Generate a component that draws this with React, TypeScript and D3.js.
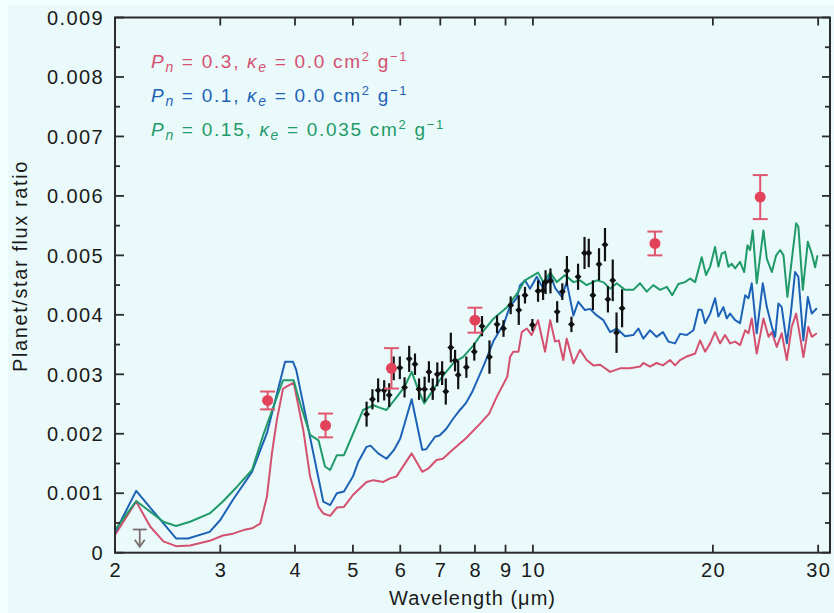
import React from 'react';
import * as d3 from 'd3';

// Planet/star flux ratio (in units of 1e-3) versus wavelength (µm)
const redModel: [number, number][] = [
  [2.0, 0.3], [2.17, 0.86], [2.29, 0.44], [2.41, 0.19], [2.53, 0.11], [2.67, 0.12], [2.88, 0.2],
  [3.03, 0.29], [3.15, 0.32], [3.28, 0.38], [3.39, 0.41], [3.5, 0.49], [3.59, 0.94], [3.66, 1.67],
  [3.73, 2.23], [3.82, 2.76], [3.98, 2.86], [4.13, 2.06], [4.24, 1.28], [4.38, 0.77], [4.46, 0.66],
  [4.58, 0.62], [4.7, 0.76], [4.83, 0.77], [5.0, 0.97], [5.27, 1.19], [5.41, 1.22], [5.62, 1.19],
  [5.77, 1.25], [5.91, 1.28], [6.27, 1.67], [6.53, 1.36], [6.69, 1.42], [6.9, 1.56], [7.07, 1.58],
  [7.34, 1.73], [7.72, 1.92], [8.16, 2.17], [8.45, 2.34], [8.7, 2.62], [9.06, 2.96], [9.16, 3.29],
  [9.27, 3.38], [9.46, 3.38], [9.58, 3.71], [9.77, 3.77], [9.95, 3.66], [10.2, 3.91], [10.48, 3.38],
  [10.69, 3.91], [10.89, 3.55], [11.05, 3.57], [11.24, 3.24], [11.39, 3.6], [11.69, 3.18],
  [11.99, 3.41], [12.3, 3.24], [12.62, 3.15], [12.96, 3.16], [13.46, 3.04], [13.99, 3.1],
  [14.54, 3.1], [15.11, 3.13], [15.3, 3.19], [15.7, 3.13], [16.1, 3.19], [16.5, 3.15],
  [16.96, 3.24], [17.29, 3.15], [17.63, 3.24], [18.09, 3.3], [18.68, 3.35], [19.04, 3.57],
  [19.41, 3.38], [19.79, 3.52], [20.17, 3.71], [20.56, 3.52], [20.96, 3.66], [21.37, 3.52],
  [21.79, 3.55], [22.21, 3.49], [22.65, 3.74], [22.94, 3.69], [23.23, 3.94], [23.68, 3.35],
  [24.3, 3.94], [24.78, 3.63], [25.1, 3.71], [25.58, 3.46], [26.07, 3.69], [26.59, 3.24],
  [27.1, 3.8], [27.56, 4.02], [27.99, 3.63], [28.34, 3.29], [28.89, 3.8], [29.27, 3.63], [29.85, 3.69],
];

const blueModel: [number, number][] = [
  [2.0, 0.34], [2.17, 1.04], [2.53, 0.24], [2.65, 0.24], [2.88, 0.35], [3.0, 0.55], [3.15, 0.89],
  [3.39, 1.36], [3.59, 2.01], [3.85, 3.21], [3.97, 3.21], [4.02, 3.07], [4.46, 0.86], [4.58, 0.8],
  [4.7, 1.0], [4.83, 1.03], [5.0, 1.28], [5.1, 1.52], [5.27, 1.78], [5.35, 1.8], [5.51, 1.67],
  [5.69, 1.58], [5.85, 1.72], [6.0, 1.92], [6.27, 2.58], [6.53, 1.73], [6.63, 1.74], [6.86, 1.95],
  [6.98, 1.97], [7.16, 2.08], [7.34, 2.24], [7.55, 2.4], [7.72, 2.51], [7.93, 2.72], [8.3, 3.18],
  [8.6, 3.57], [8.95, 3.86], [9.16, 4.15], [9.4, 4.28], [9.52, 4.5], [9.7, 4.58], [9.89, 4.44],
  [10.15, 4.64], [10.41, 4.44], [10.69, 4.67], [10.9, 4.45], [11.18, 4.3], [11.39, 4.55],
  [11.69, 3.99], [11.91, 4.22], [12.22, 4.08], [12.46, 4.1], [12.79, 3.99], [13.12, 3.91],
  [13.46, 3.71], [13.81, 3.77], [14.26, 3.64], [14.72, 3.66], [15.01, 3.77], [15.3, 3.6],
  [15.7, 3.74], [16.1, 3.63], [16.5, 3.71], [16.85, 3.55], [17.29, 3.52], [17.63, 3.68],
  [18.09, 3.66], [18.56, 3.74], [18.92, 4.09], [19.16, 4.08], [19.41, 3.86], [19.79, 4.02],
  [20.17, 4.28], [20.43, 3.97], [20.82, 4.13], [21.1, 3.94], [21.37, 4.02], [21.79, 3.91],
  [22.21, 3.86], [22.65, 4.33], [22.94, 4.28], [23.23, 4.53], [23.68, 3.69], [24.24, 4.53],
  [24.62, 4.13], [25.1, 3.8], [25.42, 3.63], [25.74, 4.19], [26.07, 4.13], [26.59, 3.52],
  [27.0, 4.02], [27.45, 4.72], [27.8, 4.64], [28.34, 3.57], [28.83, 4.3], [29.27, 4.02], [29.85, 4.11],
];

const greenModel: [number, number][] = [
  [2.0, 0.38], [2.17, 0.87], [2.29, 0.69], [2.41, 0.52], [2.53, 0.45], [2.67, 0.52], [2.88, 0.66],
  [3.03, 0.86], [3.2, 1.11], [3.39, 1.39], [3.54, 1.98], [3.68, 2.45], [3.82, 2.9], [3.98, 2.9],
  [4.08, 2.51], [4.24, 1.98], [4.38, 1.89], [4.49, 1.45], [4.58, 1.39], [4.7, 1.64], [4.83, 1.64],
  [4.94, 1.87], [5.2, 2.4], [5.41, 2.48], [5.54, 2.44], [5.69, 2.4], [5.87, 2.57], [6.1, 2.79],
  [6.27, 3.04], [6.42, 2.76], [6.58, 2.51], [6.75, 2.68], [6.98, 2.9], [7.16, 3.04], [7.39, 3.21],
  [7.64, 3.29], [7.96, 3.49], [8.28, 3.74], [8.6, 3.94], [9.06, 4.13], [9.41, 4.36], [9.7, 4.58],
  [10.2, 4.71], [10.41, 4.55], [10.69, 4.71], [10.96, 4.55], [11.32, 4.67], [11.69, 4.55],
  [11.99, 4.58], [12.3, 4.5], [12.79, 4.58], [13.12, 4.55], [13.46, 4.44], [13.81, 4.53],
  [14.26, 4.42], [14.72, 4.42], [15.11, 4.53], [15.5, 4.39], [15.9, 4.5], [16.32, 4.42],
  [16.75, 4.47], [17.1, 4.33], [17.51, 4.52], [17.97, 4.55], [18.32, 4.61], [18.68, 4.55],
  [19.16, 4.97], [19.48, 4.67], [19.79, 4.81], [20.17, 5.14], [20.43, 4.81], [20.69, 5.03],
  [20.96, 5.06], [21.23, 4.81], [21.5, 4.86], [21.79, 4.78], [22.21, 4.89], [22.56, 4.72],
  [22.85, 5.17], [23.08, 5.09], [23.32, 5.42], [23.68, 4.53], [24.3, 5.42], [24.62, 4.94],
  [25.1, 4.72], [25.52, 5.0], [25.92, 5.09], [26.25, 5.0], [26.65, 4.3], [27.1, 4.92],
  [27.56, 5.54], [27.8, 5.48], [28.28, 4.42], [28.83, 5.23], [29.27, 5.03], [29.65, 4.8], [29.92, 5.0],
];

// IRS spectrum: wavelength, flux ratio, 1-sigma error (units of 1e-3)
const specLambda = [
  5.27, 5.39, 5.51, 5.64, 5.75, 5.85, 5.99, 6.1, 6.21, 6.35, 6.45, 6.59, 6.7, 6.8, 6.92, 7.05,
  7.15, 7.29, 7.41, 7.5, 7.74, 7.98, 8.22, 8.46, 8.71, 8.93, 9.18, 9.47, 9.7, 9.98, 10.2, 10.4,
  10.5, 10.7, 10.98, 11.2, 11.4, 11.6, 11.9, 12.2, 12.4, 12.6, 12.9, 13.2, 13.35, 13.6, 13.8, 14.1,
];
const specValue = [
  2.33, 2.58, 2.73, 2.73, 2.65, 3.1, 3.11, 2.78, 3.26, 3.17, 2.75, 2.75, 3.04, 2.75, 3.0, 3.02,
  2.71, 3.45, 3.23, 2.99, 3.12, 3.38, 3.81, 3.29, 3.84, 3.77, 4.16, 4.08, 4.33, 3.83, 4.4, 4.41,
  4.55, 4.57, 4.05, 4.39, 4.74, 3.84, 4.64, 5.04, 5.04, 4.33, 4.85, 5.18, 4.26, 4.58, 3.7, 4.11,
];
const specError = [
  0.21, 0.17, 0.2, 0.17, 0.2, 0.2, 0.19, 0.17, 0.22, 0.18, 0.18, 0.21, 0.18, 0.18, 0.2, 0.2,
  0.22, 0.25, 0.18, 0.24, 0.18, 0.15, 0.17, 0.28, 0.15, 0.14, 0.15, 0.25, 0.14, 0.1, 0.18, 0.16,
  0.2, 0.21, 0.18, 0.14, 0.25, 0.13, 0.22, 0.27, 0.24, 0.25, 0.27, 0.28, 0.22, 0.35, 0.34, 0.32,
];

// Broadband photometry
const photLambda = [3.6, 4.5, 5.8, 8.0, 16, 24];
const photValue = [2.56, 2.14, 3.1, 3.91, 5.2, 5.98];
const photError = [0.15, 0.2, 0.34, 0.21, 0.2, 0.37];

// 2.2 µm upper limit
const limitLambda = 2.2;
const limitValue = 0.39;
const limitArrowTo = 0.1;

const xTicks = [2, 3, 4, 5, 6, 7, 8, 9, 10, 20, 30];
const yTicks = [0, 0.001, 0.002, 0.003, 0.004, 0.005, 0.006, 0.007, 0.008, 0.009];
const yTickLabels = ['0', '0.001', '0.002', '0.003', '0.004', '0.005', '0.006', '0.007', '0.008', '0.009'];

const legendEntries = [
  { color: '#d4506f', pn: '0.3', ke: '0.0' },
  { color: '#1d62b6', pn: '0.1', ke: '0.0' },
  { color: '#1f9a68', pn: '0.15', ke: '0.035' },
];

const W = 834;
const H = 613;
const M = { left: 115, right: 830, top: 17.5, bottom: 552.7 };

const FONT = '"Liberation Sans", Arial, Helvetica, sans-serif';
const INK = '#2b2b2b';

export default function App() {
  const x = d3.scaleLog().domain([2, 31.4]).range([M.left, M.right]);
  const y = d3.scaleLinear().domain([0, 0.009]).range([M.bottom, M.top]);
  const yv = (v: number) => y(v * 1e-3);

  const line = d3
    .line<[number, number]>()
    .x((d) => x(d[0]))
    .y((d) => yv(d[1]));

  const diamond = d3.symbol(d3.symbolDiamond2, 30)() as string;

  const minorY = d3.range(0.0005, 0.009, 0.001);

  const models = [
    { data: redModel, color: legendEntries[0].color },
    { data: blueModel, color: legendEntries[1].color },
    { data: greenModel, color: legendEntries[2].color },
  ];

  const ly = limitValue;
  const lx = x(limitLambda);

  return (
    <svg
      width={W}
      height={H}
      viewBox={`0 0 ${W} ${H}`}
      style={{ position: 'absolute', left: 0, top: 0, display: 'block' }}
      fontFamily={FONT}
    >
      <rect x={0} y={0} width={W} height={H} fill="#f3fefe" />
      <rect x={8} y={5} width={W - 8} height={H - 5} fill="#eafafb" />

      {/* model curves */}
      <g fill="none" strokeWidth={2} strokeLinejoin="round">
        {models.map((m, i) => (
          <path key={i} d={line(m.data) as string} stroke={m.color} />
        ))}
      </g>

      {/* upper limit */}
      <g stroke="#7b6d6d" strokeWidth={1.8} fill="none">
        <line x1={lx - 7} x2={lx + 7} y1={yv(ly)} y2={yv(ly)} />
        <line x1={lx} x2={lx} y1={yv(ly)} y2={yv(limitArrowTo)} />
        <polyline
          points={`${lx - 5},${yv(limitArrowTo) - 7} ${lx},${yv(limitArrowTo)} ${lx + 5},${yv(limitArrowTo) - 7}`}
        />
      </g>

      {/* spectrum */}
      <g>
        {specLambda.map((l, i) => (
          <g key={i}>
            <line
              x1={x(l)}
              x2={x(l)}
              y1={yv(specValue[i] + specError[i])}
              y2={yv(specValue[i] - specError[i])}
              stroke="#111"
              strokeWidth={2.2}
            />
            <path d={diamond} transform={`translate(${x(l)},${yv(specValue[i])})`} fill="#111" />
          </g>
        ))}
      </g>

      {/* photometry */}
      <g>
        {photLambda.map((l, i) => {
          const cx = x(l);
          const top = yv(photValue[i] + photError[i]);
          const bot = yv(photValue[i] - photError[i]);
          return (
            <g key={i} stroke="#e0566e" strokeWidth={2}>
              <line x1={cx} x2={cx} y1={top} y2={bot} />
              <line x1={cx - 7.5} x2={cx + 7.5} y1={top} y2={top} />
              <line x1={cx - 7.5} x2={cx + 7.5} y1={bot} y2={bot} />
              <circle cx={cx} cy={yv(photValue[i])} r={5.5} fill="#e2425a" stroke="none" />
            </g>
          );
        })}
      </g>

      {/* frame */}
      <rect
        x={M.left}
        y={M.top}
        width={M.right - M.left}
        height={M.bottom - M.top}
        fill="none"
        stroke={INK}
        strokeWidth={2}
      />

      {/* x ticks (bottom and top) */}
      <g stroke={INK} strokeWidth={1.8}>
        {xTicks.map((t) => (
          <g key={t}>
            <line x1={x(t)} x2={x(t)} y1={M.bottom} y2={M.bottom - 8} />
            <line x1={x(t)} x2={x(t)} y1={M.top} y2={M.top + 8} />
          </g>
        ))}
        {yTicks.map((t) => (
          <g key={t}>
            <line x1={M.left} x2={M.left + 9} y1={y(t)} y2={y(t)} />
            <line x1={M.right} x2={M.right - 8} y1={y(t)} y2={y(t)} />
          </g>
        ))}
        {minorY.map((t) => (
          <g key={t}>
            <line x1={M.left} x2={M.left + 5} y1={y(t)} y2={y(t)} />
            <line x1={M.right} x2={M.right - 5} y1={y(t)} y2={y(t)} />
          </g>
        ))}
      </g>

      {/* tick labels */}
      <g fill="#1a1a1a" fontSize={20} style={{ letterSpacing: '1.4px' }}>
        {xTicks.map((t) => (
          <text key={t} x={x(t) + 0.7} y={M.bottom + 24} textAnchor="middle">
            {t}
          </text>
        ))}
        {yTicks.map((t, i) => (
          <text key={t} x={104} y={y(t)} dy="0.36em" textAnchor="end">
            {yTickLabels[i]}
          </text>
        ))}
      </g>

      {/* axis titles */}
      <text
        x={(M.left + M.right) / 2}
        y={605}
        textAnchor="middle"
        fontSize={20}
        fill="#1a1a1a"
        style={{ letterSpacing: '1px' }}
      >
        Wavelength (μm)
      </text>
      <text
        transform="translate(27,266) rotate(-90)"
        textAnchor="middle"
        fontSize={20}
        fill="#1a1a1a"
        style={{ letterSpacing: '1.6px' }}
      >
        Planet/star flux ratio
      </text>

      {/* legend */}
      <g fontSize={19} style={{ letterSpacing: '1.7px' }}>
        {legendEntries.map((e, i) => (
          <text key={i} x={151} y={68 + i * 34} fill={e.color}>
            <tspan fontStyle="italic">P</tspan>
            <tspan fontStyle="italic" fontSize={14} dy={4}>n</tspan>
            <tspan dy={-4}>{` = ${e.pn}, `}</tspan>
            <tspan fontStyle="italic">κ</tspan>
            <tspan fontStyle="italic" fontSize={14} dy={4}>e</tspan>
            <tspan dy={-4}>{` = ${e.ke} cm`}</tspan>
            <tspan fontSize={13} dy={-7}>2</tspan>
            <tspan dy={7}> g</tspan>
            <tspan fontSize={13} dy={-7}>−1</tspan>
          </text>
        ))}
      </g>
    </svg>
  );
}
